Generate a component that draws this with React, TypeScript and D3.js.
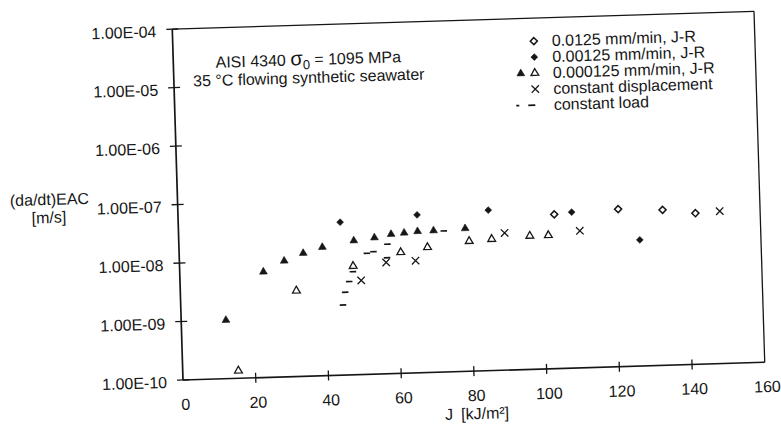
import React, { useRef, useEffect } from "react";
import * as d3 from "d3";

// values
const FILLED_TRI_J = [12.3, 23.0, 28.8, 34.1, 39.4, 48.1, 53.8, 58.4, 62.0, 65.7, 70.1, 78.8];
const FILLED_TRI_RATE = [1.0e-9, 6.4e-9, 9.6e-9, 1.27e-8, 1.57e-8, 1.96e-8, 2.15e-8, 2.41e-8, 2.5e-8, 2.61e-8, 2.64e-8, 2.77e-8];

const OPEN_TRI_J = [15.3, 31.9, 47.7, 60.9, 68.3, 79.8, 86.0, 96.5, 101.6];
const OPEN_TRI_RATE = [1.35e-10, 2.93e-9, 7.2e-9, 1.17e-8, 1.38e-8, 1.67e-8, 1.76e-8, 1.91e-8, 1.91e-8];

const FILLED_DIA_J = [44.5, 65.7, 85.3, 108.2, 126.7];
const FILLED_DIA_RATE = [4.11e-8, 5.0e-8, 5.54e-8, 4.62e-8, 1.43e-8];

const OPEN_DIA_J = [103.4, 121.0, 133.2, 142.2];
const OPEN_DIA_RATE = [4.33e-8, 4.93e-8, 4.53e-8, 3.83e-8];

const CROSS_J = [49.8, 56.8, 64.9, 89.6, 110.3, 148.9];
const CROSS_RATE = [4.06e-9, 8.0e-9, 8.25e-9, 2.21e-8, 2.2e-8, 4.02e-8];

const LOAD_J = [44.6, 45.3, 46.5, 47.6, 51.6, 53.4, 57.1, 57.3, 72.9];
const LOAD_RATE = [1.58e-9, 2.6e-9, 3.93e-9, 5.79e-9, 1.17e-8, 1.24e-8, 9.6e-9, 1.64e-8, 2.58e-8];

const X_TICKS = [0, 20, 40, 60, 80, 100, 120, 140, 160];
const Y_TICKS = [1e-10, 1e-9, 1e-8, 1e-7, 1e-6, 1e-5, 1e-4];
const Y_TICK_LABELS = ["1.00E-10", "1.00E-09", "1.00E-08", "1.00E-07", "1.00E-06", "1.00E-05", "1.00E-04"];

const LEGEND_LABELS = [
  "0.0125 mm/min, J-R",
  "0.00125 mm/min, J-R",
  "0.000125 mm/min, J-R",
  "constant displacement",
  "constant load",
];

const INK = "#161616";
const FONT = "'Liberation Sans', Arial, Helvetica, sans-serif";
const FS = "16px";

const App = () => {
  const svgRef = useRef<SVGSVGElement>(null);

  useEffect(() => {
    const width = 781, height = 435;
    const plotW = 582, plotH = 351;
    const left = 183, top = 29;

    const svg = d3.select(svgRef.current)
      .attr("width", width)
      .attr("height", height)
      .style("background", "#fff");

    svg.selectAll("*").remove();

    // the scan is tilted a little, so the whole figure is turned about the origin corner
    const root = svg.append("g")
      .attr("transform", `rotate(-1.75 ${left} ${top + plotH})`)
      .style("font-family", FONT)
      .attr("fill", INK);

    const g = root.append("g").attr("transform", `translate(${left},${top})`);

    const x = d3.scaleLinear().domain([0, 160]).range([0, plotW]);
    const y = d3.scaleLog().domain([1e-10, 1e-4]).range([plotH, 0]);

    // frame
    g.append("line").attr("x1", 0).attr("x2", plotW).attr("y1", 0).attr("y2", 0)
      .attr("stroke", INK).attr("stroke-width", 1.1);
    g.append("line").attr("x1", plotW).attr("x2", plotW).attr("y1", 0).attr("y2", plotH)
      .attr("stroke", INK).attr("stroke-width", 1.3);
    g.append("line").attr("x1", 0).attr("x2", 0).attr("y1", 0).attr("y2", plotH)
      .attr("stroke", INK).attr("stroke-width", 1.7);
    g.append("line").attr("x1", 0).attr("x2", plotW).attr("y1", plotH).attr("y2", plotH)
      .attr("stroke", INK).attr("stroke-width", 1.7);

    // y ticks cross the axis
    g.selectAll(".ytick").data(Y_TICKS).enter().append("line")
      .attr("x1", -6).attr("x2", 6)
      .attr("y1", d => y(d)).attr("y2", d => y(d))
      .attr("stroke", INK).attr("stroke-width", 1.3);

    g.selectAll(".ylab").data(Y_TICKS).enter().append("text")
      .attr("x", -16)
      .attr("y", d => y(d) + 7.5)
      .attr("text-anchor", "end")
      .style("font-size", FS)
      .text((d, i) => Y_TICK_LABELS[i]);

    g.selectAll(".xtick").data(X_TICKS.slice(1, -1)).enter().append("line")
      .attr("x1", d => x(d)).attr("x2", d => x(d))
      .attr("y1", plotH - 5).attr("y2", plotH + 5)
      .attr("stroke", INK).attr("stroke-width", 1.3);

    g.selectAll(".xlab").data(X_TICKS).enter().append("text")
      .attr("x", d => x(d) + 2)
      .attr("y", plotH + 30)
      .attr("text-anchor", "middle")
      .style("font-size", FS)
      .text(d => d);

    // axis titles
    const xt = g.append("text")
      .attr("x", plotW / 2 + 2)
      .attr("y", plotH + 48)
      .attr("text-anchor", "middle")
      .style("font-size", FS);
    xt.append("tspan").text("J");
    xt.append("tspan").attr("dx", 8).text("[kJ/m²]");

    g.append("text").attr("x", -128).attr("y", 172)
      .attr("text-anchor", "middle").style("font-size", FS).text("(da/dt)EAC");
    g.append("text").attr("x", -129).attr("y", 190)
      .attr("text-anchor", "middle").style("font-size", FS).text("[m/s]");

    // annotation
    const a1 = g.append("text").attr("x", 135).attr("y", 40)
      .attr("text-anchor", "middle").style("font-size", FS);
    a1.append("tspan").text("AISI 4340 ");
    a1.append("tspan").style("font-size", "20px").text("σ");
    a1.append("tspan").attr("dy", 4).style("font-size", "13px").text("0");
    a1.append("tspan").attr("dy", -4).text(" = 1095 MPa");
    g.append("text").attr("x", 135).attr("y", 58)
      .attr("text-anchor", "middle").style("font-size", FS)
      .text("35 °C flowing synthetic seawater");

    // marker helpers
    const tri = d3.symbol().type(d3.symbolTriangle).size(26);
    const dia = d3.symbol().type(d3.symbolSquare).size(23);
    const diaOpen = d3.symbol().type(d3.symbolSquare).size(25);

    const drawTri = (sel, px, py, filled) => sel.append("path")
      .attr("d", tri())
      .attr("transform", `translate(${px},${py})`)
      .attr("fill", filled ? INK : "#fff")
      .attr("stroke", INK)
      .attr("stroke-width", filled ? 0.6 : 1.3);

    const drawDia = (sel, px, py, filled) => sel.append("path")
      .attr("d", filled ? dia() : diaOpen())
      .attr("transform", `translate(${px},${py}) rotate(45)`)
      .attr("fill", filled ? INK : "#fff")
      .attr("stroke", INK)
      .attr("stroke-width", filled ? 0.6 : 1.5);

    const drawCross = (sel, px, py) => sel.append("path")
      .attr("d", "M-3.7,-3.7L3.7,3.7M-3.7,3.7L3.7,-3.7")
      .attr("transform", `translate(${px},${py})`)
      .attr("fill", "none")
      .attr("stroke", INK)
      .attr("stroke-width", 1.3);

    const drawDash = (sel, px, py, len) => sel.append("line")
      .attr("x1", px - len / 2).attr("x2", px + len / 2)
      .attr("y1", py).attr("y2", py)
      .attr("stroke", INK)
      .attr("stroke-width", 1.7);

    const marks = g.append("g");
    LOAD_J.forEach((j, i) => drawDash(marks, x(j), y(LOAD_RATE[i]), 6.5));
    OPEN_TRI_J.forEach((j, i) => drawTri(marks, x(j), y(OPEN_TRI_RATE[i]), false));
    FILLED_TRI_J.forEach((j, i) => drawTri(marks, x(j), y(FILLED_TRI_RATE[i]), true));
    OPEN_DIA_J.forEach((j, i) => drawDia(marks, x(j), y(OPEN_DIA_RATE[i]), false));
    FILLED_DIA_J.forEach((j, i) => drawDia(marks, x(j), y(FILLED_DIA_RATE[i]), true));
    CROSS_J.forEach((j, i) => drawCross(marks, x(j), y(CROSS_RATE[i])));

    // legend
    const lg = g.append("g");
    const rowY = i => 23 + i * 16;
    const mx = 361;
    drawDia(lg, mx, rowY(0), false);
    drawDia(lg, mx, rowY(1), true);
    drawTri(lg, mx - 14, rowY(2), true);
    drawTri(lg, mx, rowY(2), false);
    drawCross(lg, mx, rowY(3));
    drawDash(lg, mx - 18, rowY(4), 3);
    drawDash(lg, mx - 4, rowY(4), 7);

    lg.selectAll("text").data(LEGEND_LABELS).enter().append("text")
      .attr("x", 379)
      .attr("y", (d, i) => rowY(i) + 5.5)
      .style("font-size", FS)
      .text(d => d);
  }, []);

  return (
    <div style={{ position: "absolute", left: 0, top: 0 }}>
      <svg ref={svgRef} style={{ display: "block" }}></svg>
    </div>
  );
};

export default App;
